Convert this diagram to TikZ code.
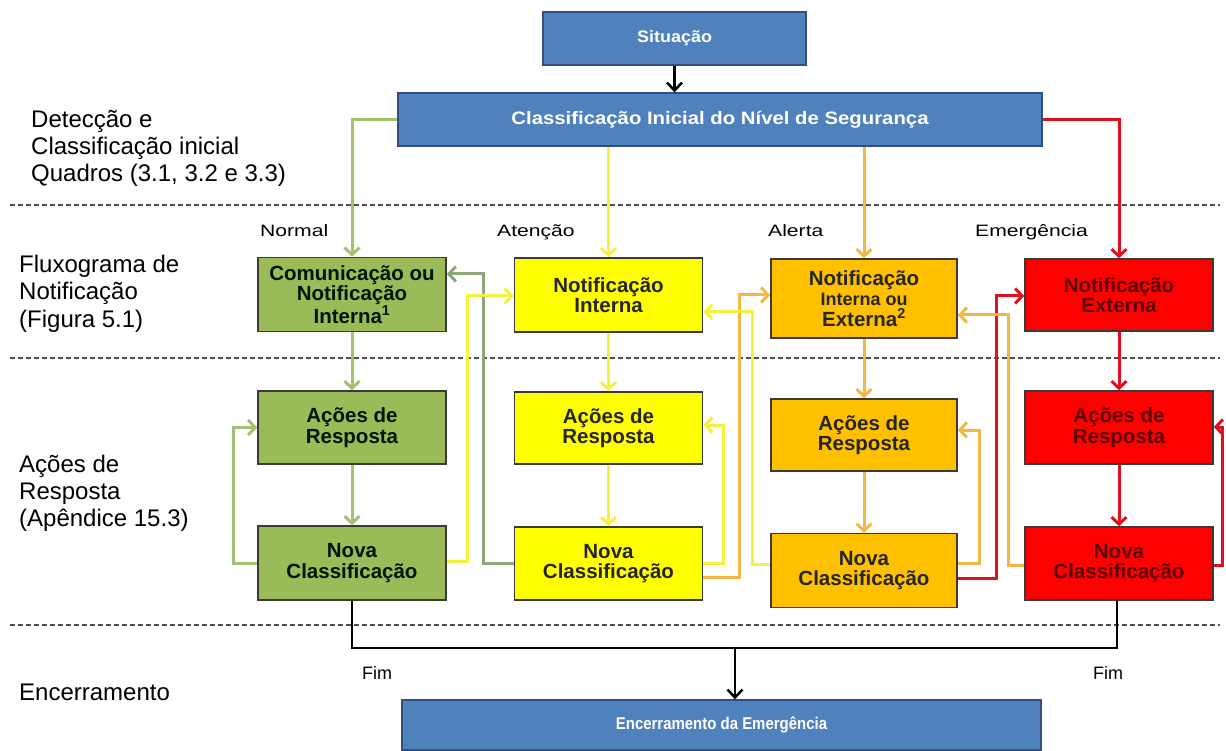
\documentclass[tikz,border=0pt]{standalone}
\usepackage{fontspec}
\setmainfont{Liberation Sans}
\newfontfamily\bxw{Liberation Sans}[FakeStretch=1.13]
\newfontfamily\sitf{Liberation Sans}[FakeStretch=1.09]
\newfontfamily\encf{Liberation Sans}[FakeStretch=0.88]
\newfontfamily\lvf{Liberation Sans}[FakeStretch=1.28]
\usetikzlibrary{arrows.meta}
\definecolor{blueF}{HTML}{4F81BD}
\definecolor{blueD}{HTML}{2F4F7F}
\definecolor{greenF}{HTML}{9BBB59}
\definecolor{greenA}{HTML}{A3C170}
\definecolor{greenG}{HTML}{8BA878}
\definecolor{yellowF}{HTML}{FFFF00}
\definecolor{yellowA}{HTML}{F8F040}
\definecolor{orangeF}{HTML}{FFC000}
\definecolor{orangeA}{HTML}{F2B845}
\definecolor{redF}{HTML}{FF0000}
\definecolor{redA}{HTML}{E01020}
\definecolor{bd}{HTML}{3A3A3A}
\definecolor{dash}{HTML}{505050}
\tikzset{
  colbox/.style={draw=bd, line width=1.6pt, minimum width=188pt, inner sep=0pt, align=center,
    font=\bfseries\fontsize{20.5}{20.5}\selectfont, text=black!85},
  bluebox/.style={draw=blueD, line width=1.3pt, fill=blueF, inner sep=0pt, align=center, text=white},
  arr/.style={line width=3pt, -{Straight Barb[length=7pt,width=15pt]}},
  blk/.style={line width=2.5pt, draw=black, -{Straight Barb[length=8pt,width=15pt]}},
  blkln/.style={line width=2.5pt, draw=black},
  dashln/.style={draw=dash, line width=1.4pt, dash pattern=on 5pt off 3pt},
  side/.style={anchor=base west, inner sep=0pt, font=\fontsize{24}{27}\selectfont},
  lvl/.style={anchor=base west, inner sep=0pt, font=\lvf\fontsize{16.5}{18}\selectfont},
  fim/.style={anchor=base west, inner sep=0pt, font=\fontsize{18}{20}\selectfont},
}
\begin{document}
\begin{tikzpicture}[x=1pt,y=-1pt]
\useasboundingbox (0,0) rectangle (1226,751);
% dashed separators
\draw[dashln] (10,205) -- (1220,205);
\draw[dashln] (10,358) -- (1220,358);
\draw[dashln] (10,625) -- (1220,625);
% side labels
\node[side] (lab1a) at (31,128) {Detecção e};
\node[side] (lab1b) at (31,155) {Classificação inicial};
\node[side] (lab1c) at (31,182) {Quadros (3.1, 3.2 e 3.3)};
\node[side] (lab2a) at (19,273) {Fluxograma de};
\node[side] (lab2b) at (19,300) {Notificação};
\node[side] (lab2c) at (19,327) {(Figura 5.1)};
\node[side] (lab3a) at (19,472) {Ações de};
\node[side] (lab3b) at (19,499) {Resposta};
\node[side] (lab3c) at (19,526) {(Apêndice 15.3)};
\node[side] (lab4) at (19,700) {Encerramento};
% level labels
\node[lvl] (lN) at (260,237) {Normal};
\node[lvl] (lA) at (497,237) {Atenção};
\node[lvl] (lL) at (768,237) {Alerta};
\node[lvl] (lE) at (975,237) {Emergência};
% blue boxes
\node[bluebox, minimum width=263pt, minimum height=53pt, font=\sitf\bfseries\fontsize{16.5}{18}\selectfont] (sit) at (674.5,38.5) {Situação};
\node[bluebox, minimum width=644pt, minimum height=53pt, font=\bxw\bfseries\fontsize{18}{20}\selectfont] (cls) at (720,119.5) {Classificação Inicial do Nível de Segurança};
\node[bluebox, minimum width=639pt, minimum height=50pt, font=\encf\bfseries\fontsize{17}{19}\selectfont] (enc) at (721.5,725) {Encerramento da Emergência};
% green column
\node[colbox, fill=greenF, minimum height=74pt, text={black!80!green!40!black}] (g1) at (352,294.5) {Comunicação ou\\Notificação\\Interna\textsuperscript{1}};
\node[colbox, fill=greenF, minimum height=73pt, text={black!80!green!40!black}] (g2) at (352,427.5) {Ações de\\Resposta};
\node[colbox, fill=greenF, minimum height=74pt, text={black!80!green!40!black}] (g3) at (352,563) {Nova\\Classificação};
% yellow column
\node[colbox, fill=yellowF, minimum height=74pt] (y1) at (608.5,295) {Notificação\\Interna};
\node[colbox, fill=yellowF, minimum height=72pt] (y2) at (608.5,428) {Ações de\\Resposta};
\node[colbox, fill=yellowF, minimum height=73pt] (y3) at (608.5,563.5) {Nova\\Classificação};
% orange column
\node[colbox, fill=orangeF, minimum width=186pt, minimum height=79pt] (o1) at (864,298.5) {Notificação\\{\fontsize{18}{20.5}\selectfont Interna ou}\\Externa\textsuperscript{2}};
\node[colbox, fill=orangeF, minimum width=186pt, minimum height=72pt] (o2) at (864,435) {Ações de\\Resposta};
\node[colbox, fill=orangeF, minimum width=186pt, minimum height=74pt] (o3) at (864,570.5) {Nova\\Classificação};
% red column
\node[colbox, fill=redF, minimum height=72pt, text={black!65!red}] (r1) at (1119,295) {Notificação\\Externa};
\node[colbox, fill=redF, minimum height=73pt, text={black!65!red}] (r2) at (1119,427.5) {Ações de\\Resposta};
\node[colbox, fill=redF, minimum height=73pt, text={black!65!red}] (r3) at (1119,563.5) {Nova\\Classificação};
% top connectors
\draw[blk] (sit.south) -- (sit.south |- cls.north);
\draw[arr, draw=greenA] (cls.west) -| (g1.north);
\draw[arr, draw=yellowA] (y1.north |- cls.south) -- (y1.north);
\draw[arr, draw=orangeA] (o1.north |- cls.south) -- (o1.north);
\draw[arr, draw=redA] (cls.east) -| (r1.north);
% column flows
\draw[arr, draw=greenA] (g1) -- (g2);
\draw[arr, draw=greenA] (g2) -- (g3);
\draw[arr, draw=yellowA] (y1) -- (y2);
\draw[arr, draw=yellowA] (y2) -- (y3);
\draw[arr, draw=orangeA] (o1) -- (o2);
\draw[arr, draw=orangeA] (o2) -- (o3);
\draw[arr, draw=redA] (r1) -- (r2);
\draw[arr, draw=redA] (r2) -- (r3);
% loop coordinates
\coordinate (gl1) at (233,563);
\coordinate (gl2) at (233,427.5);
\coordinate (gg1) at (483,563);
\coordinate (gg2) at (483,274);
\coordinate (yg1) at (467,561);
\coordinate (yg2) at (467,296);
\coordinate (yl1) at (723,563);
\coordinate (yl2) at (723,425);
\coordinate (yo1) at (739,577);
\coordinate (yo2) at (739,295);
\coordinate (oy1) at (752,564);
\coordinate (oy2) at (752,312);
\coordinate (ol1) at (979,563);
\coordinate (ol2) at (979,430);
\coordinate (or1) at (996,578);
\coordinate (or2) at (996,296);
\coordinate (ro1) at (1008,565);
\coordinate (ro2) at (1008,315);
\coordinate (rl1) at (1222,565);
\coordinate (rl2) at (1222,427);
% loops
\draw[arr, draw=greenA] (gl1 -| g3.west) -- (gl1) -- (gl2) -- (gl2 -| g2.west);
\draw[arr, draw=greenG] (gg1 -| y3.west) -- (gg1) -- (gg2) -- (gg2 -| g1.east);
\draw[arr, draw=yellowA] (yg1 -| g3.east) -- (yg1) -- (yg2) -- (yg2 -| y1.west);
\draw[arr, draw=yellowA] (yl1 -| y3.east) -- (yl1) -- (yl2) -- (yl2 -| y2.east);
\draw[arr, draw=orangeA] (yo1 -| y3.east) -- (yo1) -- (yo2) -- (yo2 -| o1.west);
\draw[arr, draw=yellowA] (oy1 -| o3.west) -- (oy1) -- (oy2) -- (oy2 -| y1.east);
\draw[arr, draw=orangeA] (ol1 -| o3.east) -- (ol1) -- (ol2) -- (ol2 -| o2.east);
\draw[arr, draw=redA] (or1 -| o3.east) -- (or1) -- (or2) -- (or2 -| r1.west);
\draw[arr, draw=orangeA] (ro1 -| r3.west) -- (ro1) -- (ro2) -- (ro2 -| o1.east);
\draw[arr, draw=redA] (rl1 -| r3.east) -- (rl1) -- (rl2) -- (rl2 -| r2.east);
% bottom
\coordinate (bl) at (352,648);
\coordinate (br) at (1117,648);
\coordinate (bm) at (735,648);
\draw[blkln] (g3.south -| bl) -- (bl) -- (br) -- (br |- r3.south);
\draw[blk] (bm) -- (bm |- enc.north);
\node[fim] (f1) at (362,679) {Fim};
\node[fim] (f2) at (1093,679) {Fim};
\end{tikzpicture}
\end{document}
